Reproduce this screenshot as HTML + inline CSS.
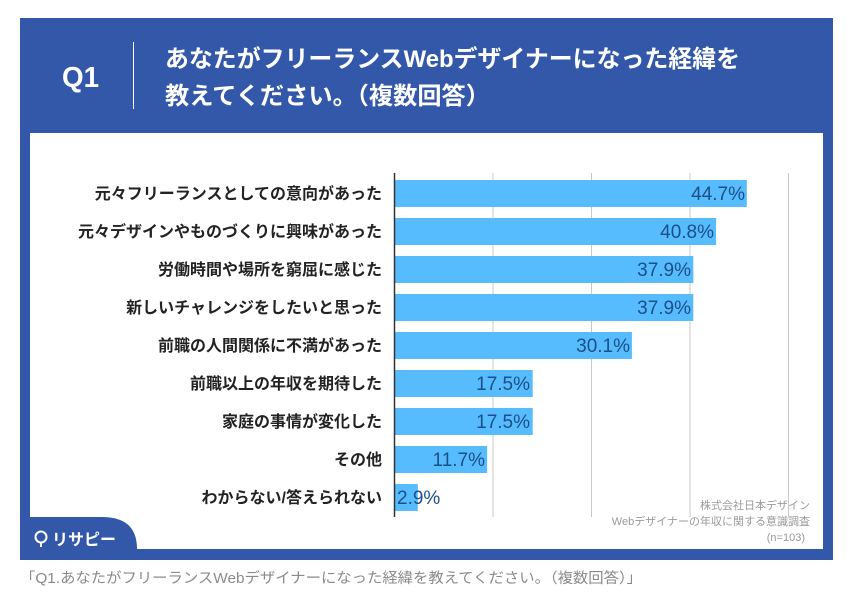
<!DOCTYPE html>
<html><head><meta charset="utf-8"><style>
html,body{margin:0;padding:0;background:#fff;width:851px;height:597px;overflow:hidden}
svg{display:block}
text{font-family:"Liberation Sans","Noto Sans CJK JP",sans-serif}
</style></head><body>
<svg width="851" height="597" viewBox="0 0 851 597" xmlns="http://www.w3.org/2000/svg">
<rect x="0" y="0" width="851" height="597" fill="#fff"/>
<rect x="20" y="18" width="813" height="542" fill="#3358a9"/>
<rect x="30" y="133" width="793" height="416" fill="#fff"/>
<path d="M30,549 L30,517 L102,517 Q137,517 137,549 Z" fill="#3358a9"/>
<!-- header -->
<text x="62" y="87" font-size="29" font-weight="bold" fill="#fff" textLength="37" lengthAdjust="spacingAndGlyphs">Q1</text>
<line x1="133.5" y1="42" x2="133.5" y2="109" stroke="#fff" stroke-width="1"/>
<text x="165" y="67" font-size="24" font-weight="bold" fill="#fff" textLength="575" lengthAdjust="spacingAndGlyphs">あなたがフリーランスWebデザイナーになった経緯を</text>
<text x="165" y="104" font-size="24" font-weight="bold" fill="#fff" textLength="325" lengthAdjust="spacingAndGlyphs">教えてください。（複数回答）</text>
<!-- grid -->
<g stroke="#c8c8c8" stroke-width="1">
<line x1="493" y1="173" x2="493" y2="517"/>
<line x1="591.5" y1="173" x2="591.5" y2="517"/>
<line x1="690" y1="173" x2="690" y2="517"/>
<line x1="788.5" y1="173" x2="788.5" y2="517"/>
</g>
<!-- bars -->
<g fill="#56bcfd">
<rect x="395" y="180" width="351.8" height="27"/>
<rect x="395" y="218" width="321.1" height="27"/>
<rect x="395" y="256" width="298.3" height="27"/>
<rect x="395" y="294" width="298.3" height="27"/>
<rect x="395" y="332" width="236.9" height="27"/>
<rect x="395" y="370" width="137.7" height="27"/>
<rect x="395" y="408" width="137.7" height="27"/>
<rect x="395" y="446" width="92.1" height="27"/>
<rect x="395" y="484" width="22.8" height="27"/>
</g>
<line x1="394.5" y1="173" x2="394.5" y2="517" stroke="#333" stroke-width="1.5"/>
<!-- values -->
<g font-size="19" fill="#1c4f8a" text-anchor="end">
<text x="745" y="200">44.7%</text>
<text x="714" y="238">40.8%</text>
<text x="691" y="276">37.9%</text>
<text x="691" y="314">37.9%</text>
<text x="630" y="352">30.1%</text>
<text x="530" y="390">17.5%</text>
<text x="530" y="428">17.5%</text>
<text x="485" y="466">11.7%</text>
<text x="397" y="504" text-anchor="start">2.9%</text>
</g>
<!-- category labels -->
<g font-size="16" font-weight="bold" fill="#222" text-anchor="end">
<text x="382" y="199">元々フリーランスとしての意向があった</text>
<text x="382" y="237">元々デザインやものづくりに興味があった</text>
<text x="382" y="275">労働時間や場所を窮屈に感じた</text>
<text x="382" y="313">新しいチャレンジをしたいと思った</text>
<text x="382" y="351">前職の人間関係に不満があった</text>
<text x="382" y="389">前職以上の年収を期待した</text>
<text x="382" y="427">家庭の事情が変化した</text>
<text x="382" y="465">その他</text>
<text x="382" y="503">わからない/答えられない</text>
</g>
<!-- source -->
<g font-size="11" fill="#9a9a9a" text-anchor="end">
<text x="810" y="509">株式会社日本デザイン</text>
<text x="810" y="525">Webデザイナーの年収に関する意識調査</text>
<text x="805" y="541">(n=103)</text>
</g>
<!-- logo -->
<circle cx="41" cy="537" r="5.5" fill="none" stroke="#fff" stroke-width="2"/>
<line x1="41" y1="543" x2="41" y2="547" stroke="#fff" stroke-width="2"/>
<text x="52" y="545" font-size="16" font-weight="bold" fill="#fff">リサピー</text>
<!-- caption -->
<text x="20" y="583" font-size="14.5" fill="#8a8a8a" textLength="622" lengthAdjust="spacingAndGlyphs">「Q1.あなたがフリーランスWebデザイナーになった経緯を教えてください。（複数回答）」</text>
</svg>
</body></html>
